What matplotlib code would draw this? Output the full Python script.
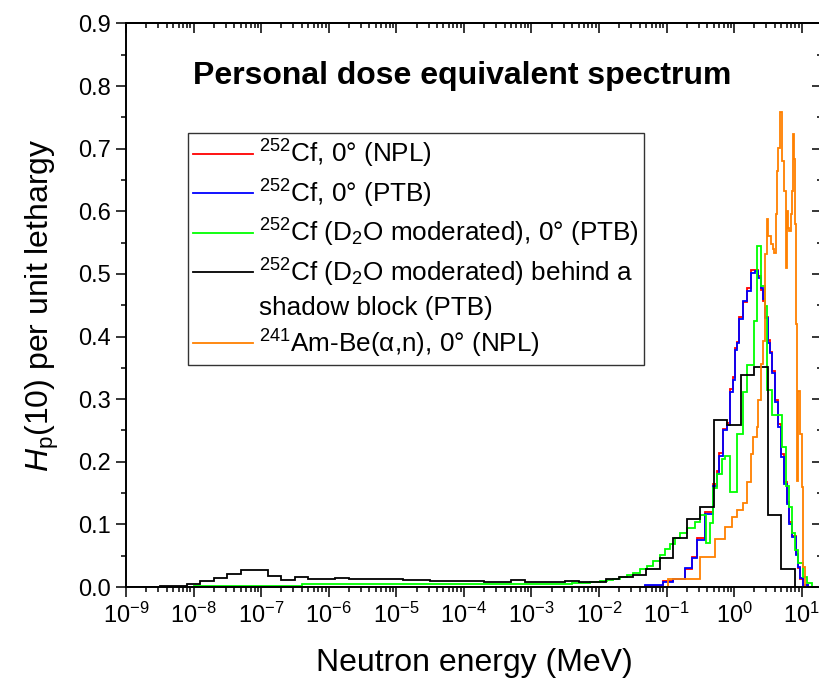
import numpy as np
import matplotlib
matplotlib.use("Agg")
import matplotlib.pyplot as plt
from matplotlib.ticker import LogLocator, MultipleLocator, FormatStrFormatter, LogFormatterSciNotation, NullFormatter
from matplotlib.lines import Line2D

plt.rcParams['font.family'] = ['Liberation Sans', 'DejaVu Sans']
plt.rcParams['mathtext.fontset'] = 'custom'
plt.rcParams['mathtext.rm'] = 'Liberation Sans'
plt.rcParams['mathtext.it'] = 'Liberation Sans:italic'
plt.rcParams['mathtext.bf'] = 'Liberation Sans:bold'

# ---------------- data (log10 of bin edges in MeV, values per unit lethargy) ----------------
cf_npl_logE = [-6.4, -1.32, -1.05, -0.90, -0.73, -0.62, -0.55, -0.43, -0.31, -0.25,
               -0.22, -0.16, -0.10, -0.06, -0.02, 0.01, 0.04, 0.07, 0.13, 0.19,
               0.25, 0.31, 0.35, 0.40, 0.43, 0.46, 0.50, 0.53, 0.56, 0.60,
               0.65, 0.69, 0.74, 0.78, 0.81, 0.86, 0.92, 0.95, 0.97, 1.02, 1.10]
cf_npl_H = [0, 0.002, 0.009, 0.013, 0.029, 0.048, 0.078, 0.120, 0.165, 0.185,
            0.214, 0.252, 0.262, 0.316, 0.335, 0.382, 0.392, 0.432, 0.455, 0.478,
            0.506, 0.507, 0.496, 0.474, 0.456, 0.432, 0.395, 0.375, 0.345, 0.298,
            0.260, 0.212, 0.167, 0.136, 0.104, 0.082, 0.052, 0.030, 0.012, 0.003]

cf_ptb_logE = cf_npl_logE
cf_ptb_H = [0, 0.003, 0.008, 0.0135, 0.031, 0.046, 0.075, 0.117, 0.162, 0.181,
            0.210, 0.250, 0.258, 0.311, 0.330, 0.378, 0.389, 0.428, 0.457, 0.473,
            0.502, 0.505, 0.494, 0.478, 0.460, 0.430, 0.390, 0.373, 0.341, 0.295,
            0.255, 0.208, 0.165, 0.133, 0.101, 0.080, 0.051, 0.032, 0.014, 0.003]

cfd2o_logE = [-9.0, -8.0, -7.0, -6.4, -5.0, -4.0, -3.0, -2.4, -2.28, -2.13,
              -1.99, -1.88, -1.79, -1.69, -1.59, -1.50, -1.39, -1.29, -1.20, -1.10,
              -1.02, -0.95, -0.88, -0.80, -0.70, -0.58, -0.51, -0.42, -0.36, -0.31,
              -0.25, -0.18, -0.13, -0.06, 0.04, 0.13, 0.19, 0.29, 0.34, 0.40,
              0.46, 0.49, 0.56, 0.71, 0.77, 0.81, 0.86, 0.90, 0.95, 1.02,
              1.08, 1.15]
cfd2o_H = [0.0, 0.001, 0.002, 0.004, 0.0045, 0.005, 0.0055, 0.006, 0.0065, 0.0075,
           0.009, 0.011, 0.013, 0.0155, 0.019, 0.023, 0.028, 0.034, 0.042, 0.051,
           0.060, 0.069, 0.078, 0.086, 0.094, 0.104, 0.115, 0.070, 0.102, 0.158,
           0.181, 0.205, 0.210, 0.152, 0.245, 0.311, 0.354, 0.425, 0.544, 0.481,
           0.449, 0.314, 0.274, 0.223, 0.162, 0.128, 0.086, 0.059, 0.038, 0.016,
           0.006]

shadow_logE = [-9.0, -8.5, -8.3, -8.1, -7.9, -7.7, -7.5, -7.3, -6.9, -6.7,
               -6.5, -6.3, -5.9, -5.7, -5.5, -5.1, -4.9, -4.5, -4.1, -3.7,
               -3.3, -3.1, -2.5, -2.3, -1.9, -1.7, -1.5, -1.3, -1.1, -0.9,
               -0.7, -0.5, -0.3, -0.1, 0.1, 0.3, 0.5, 0.7, 0.9]
shadow_H = [0.0005, 0.001, 0.002, 0.005, 0.0096, 0.015, 0.021, 0.0276, 0.018, 0.0107,
            0.0154, 0.0127, 0.0143, 0.013, 0.0128, 0.0125, 0.011, 0.0100, 0.0095, 0.0085,
            0.011, 0.008, 0.0095, 0.008, 0.012, 0.0152, 0.019, 0.0285, 0.046, 0.079,
            0.108, 0.128, 0.267, 0.258, 0.339, 0.352, 0.1147, 0.028]

ambe_logE = [-6.4, -0.98, -0.51, -0.28, -0.13, -0.03, 0.04, 0.13, 0.19, 0.25,
             0.28, 0.34, 0.35, 0.40, 0.43, 0.46, 0.49, 0.50, 0.55, 0.58,
             0.59, 0.62, 0.63, 0.65, 0.68, 0.71, 0.74, 0.77, 0.78, 0.80,
             0.81, 0.84, 0.86, 0.87, 0.89, 0.90, 0.92, 0.93, 0.95, 0.97,
             1.00, 1.02, 1.05]
ambe_H = [0, 0.0135, 0.048, 0.077, 0.096, 0.112, 0.123, 0.134, 0.168, 0.213,
          0.239, 0.255, 0.298, 0.356, 0.393, 0.532, 0.587, 0.561, 0.548, 0.540,
          0.534, 0.595, 0.664, 0.701, 0.759, 0.680, 0.632, 0.510, 0.600, 0.574,
          0.569, 0.596, 0.632, 0.723, 0.683, 0.579, 0.420, 0.170, 0.313, 0.245,
          0.160, 0.032]

labels = [r'$^{252}$Cf, 0° (NPL)',
          r'$^{252}$Cf, 0° (PTB)',
          r'$^{252}$Cf (D$_2$O moderated), 0° (PTB)',
          r'$^{252}$Cf (D$_2$O moderated) behind a',
          'shadow block (PTB)',
          r'$^{241}$Am-Be(α,n), 0° (NPL)']
colors = ['#FF0000', '#0000FF', '#00FF00', '#000000', '#FF8000']

# ---------------- figure ----------------
W, H = 819, 680
fig = plt.figure(figsize=(W / 100, H / 100), dpi=100)
x0, x1, yb, yt = 126, 822, 587, 23.5
ax = fig.add_axes([x0 / W, (H - yb) / H, (x1 - x0) / W, (yb - yt) / H])
ax.set_xscale('log')

series = [(cf_npl_logE, cf_npl_H), (cf_ptb_logE, cf_ptb_H), (cfd2o_logE, cfd2o_H),
          (shadow_logE, shadow_H), (ambe_logE, ambe_H)]
for (le, hv), c in zip(series, colors):
    ax.stairs(hv, 10.0 ** np.asarray(le), color=c, lw=1.3, baseline=0)

ax.set_xlim(1e-9, 20)
ax.set_ylim(0, 0.9)

lw_sp = 1.4
for s in ax.spines.values():
    s.set_linewidth(lw_sp)

ax.xaxis.set_major_locator(LogLocator(base=10, numticks=20))
ax.xaxis.set_minor_locator(LogLocator(base=10, subs=np.arange(2, 10), numticks=200))
ax.xaxis.set_minor_formatter(NullFormatter())
ax.xaxis.set_major_formatter(LogFormatterSciNotation())
ax.yaxis.set_major_locator(MultipleLocator(0.1))
ax.yaxis.set_minor_locator(MultipleLocator(0.05))
ax.yaxis.set_major_formatter(FormatStrFormatter('%.1f'))
ax.tick_params(which='major', direction='out', length=7, width=1.1, labelsize=17, pad=4)
ax.tick_params(which='minor', direction='out', length=3.5, width=1.1)

secx = ax.secondary_xaxis('top')
secx.xaxis.set_major_locator(LogLocator(base=10, numticks=20))
secx.xaxis.set_minor_locator(LogLocator(base=10, subs=np.arange(2, 10), numticks=200))
secx.tick_params(which='major', direction='in', length=7, width=1.1, labeltop=False)
secx.tick_params(which='minor', direction='in', length=3.5, width=1.1)
secx.spines['top'].set_linewidth(lw_sp)
secy = ax.secondary_yaxis('right')
secy.yaxis.set_major_locator(MultipleLocator(0.1))
secy.yaxis.set_minor_locator(MultipleLocator(0.05))
secy.tick_params(which='major', direction='in', length=7, width=1.1, labelright=False)
secy.tick_params(which='minor', direction='in', length=3.5, width=1.1)

ax.set_xlabel('Neutron energy (MeV)', fontsize=23, labelpad=15)
ax.set_ylabel(r'$H_\mathrm{p}$(10) per unit lethargy', fontsize=23, labelpad=12)

fig.text(193 / W, 1 - 76 / H, 'Personal dose equivalent spectrum', fontsize=23,
         fontweight='bold', ha='left', va='center')

handles = [Line2D([], [], color=c, lw=1.3) for c in colors[:4]]
handles.append(Line2D([], [], color='none', lw=1.3))
handles.append(Line2D([], [], color=colors[4], lw=1.3))
leg = ax.legend(handles, labels, loc='upper left', bbox_to_anchor=(188 / W, 1 - 133 / H),
                bbox_transform=fig.transFigure, borderaxespad=0, fontsize=18.8,
                handlelength=2.3, handletextpad=0.23, borderpad=0.2, labelspacing=0.28,
                fancybox=False, framealpha=1, edgecolor='#333333')
leg.get_frame().set_linewidth(1.0)

fig.savefig('out.png', dpi=100)
